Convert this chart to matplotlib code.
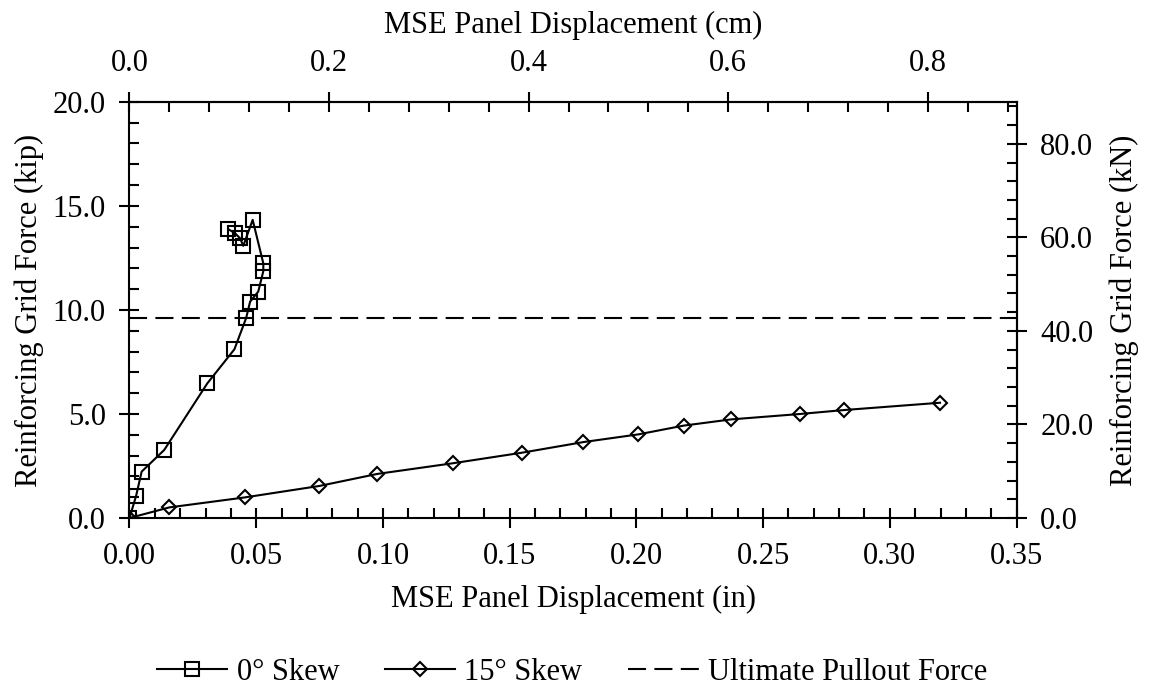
import matplotlib
matplotlib.use("Agg")
import matplotlib.pyplot as plt
from matplotlib.ticker import FixedLocator, MultipleLocator, FormatStrFormatter

plt.rcParams['font.family'] = ['Liberation Serif', 'DejaVu Serif']
plt.rcParams['lines.scale_dashes'] = False

# 0 deg skew (in, kip)
skew0_x = [0.0, 0.0026, 0.0048, 0.0137, 0.0307, 0.0414, 0.0460, 0.0476, 0.0508,
           0.0528, 0.0528, 0.0486, 0.0449, 0.0436, 0.0416, 0.0390]
skew0_y = [0.0, 1.06, 2.23, 3.27, 6.47, 8.11, 9.60, 10.40, 10.88,
           11.86, 12.24, 14.33, 13.08, 13.45, 13.69, 13.88]
# 15 deg skew (in, kip)
skew15_x = [0.0, 0.0157, 0.0455, 0.0749, 0.0978, 0.1275, 0.1549, 0.1791, 0.2008,
            0.2186, 0.2374, 0.2646, 0.2820, 0.3198]
skew15_y = [0.0, 0.51, 0.99, 1.54, 2.12, 2.63, 3.14, 3.65, 4.02,
            4.44, 4.74, 5.00, 5.19, 5.54]
# ultimate pullout force (kip)
pullout_x = [0.0, 0.35]
pullout_y = [9.6, 9.6]

labels = ['0° Skew', '15° Skew', 'Ultimate Pullout Force']

# tick values
x_ticks = [0.00, 0.05, 0.10, 0.15, 0.20, 0.25, 0.30, 0.35]
y_ticks = [0.0, 5.0, 10.0, 15.0, 20.0]
cm_ticks = [0.0, 0.2, 0.4, 0.6, 0.8]
kn_ticks = [0.0, 20.0, 40.0, 60.0, 80.0]

KIP_TO_KN = 4.44822
IN_TO_CM = 2.54

fig = plt.figure(figsize=(11.51, 6.93), dpi=100)
ax = fig.add_axes([0.1125, 0.2525, 0.7707, 0.6005])

lw = 1.5
ax.plot(skew0_x, skew0_y, color='black', lw=lw, marker='s', ms=9.5,
        mfc='none', mec='black', mew=1.5, label=labels[0])
ax.plot(skew15_x, skew15_y, color='black', lw=lw, marker='D', ms=7.2,
        mfc='none', mec='black', mew=1.5, label=labels[1])
ax.plot(pullout_x, pullout_y, color='black', lw=lw, dashes=(13, 6),
        label=labels[2])

ax.set_xlim(0, 0.35)
ax.set_ylim(0, 20)
ax.xaxis.set_major_locator(FixedLocator(x_ticks))
ax.xaxis.set_minor_locator(MultipleLocator(0.01))
ax.yaxis.set_major_locator(FixedLocator(y_ticks))
ax.yaxis.set_minor_locator(MultipleLocator(1))
ax.xaxis.set_major_formatter(FormatStrFormatter('%.2f'))
ax.yaxis.set_major_formatter(FormatStrFormatter('%.1f'))

fs = 22
sw = 1.5
pad = 10
for s in ax.spines.values():
    s.set_linewidth(sw)
ax.tick_params(which='major', direction='inout', length=14, width=sw,
               labelsize=fs, pad=pad)
ax.tick_params(which='minor', direction='in', length=7, width=sw)
ax.tick_params(top=False, right=False, which='both')

ax.set_xlabel('MSE Panel Displacement (in)', fontsize=fs, labelpad=10)
ax.set_ylabel('Reinforcing Grid Force (kip)', fontsize=fs, labelpad=6)

secx = ax.secondary_xaxis('top', functions=(lambda v: v * IN_TO_CM,
                                            lambda v: v / IN_TO_CM))
secx.xaxis.set_major_locator(FixedLocator(cm_ticks))
secx.xaxis.set_minor_locator(MultipleLocator(0.04))
secx.xaxis.set_major_formatter(FormatStrFormatter('%.1f'))
secx.tick_params(which='major', direction='inout', length=14, width=sw,
                 labelsize=fs, pad=pad)
secx.tick_params(which='minor', direction='in', length=7, width=sw)
secx.set_xlabel('MSE Panel Displacement (cm)', fontsize=fs, labelpad=12)
secx.spines['top'].set_linewidth(sw)

secy = ax.secondary_yaxis('right', functions=(lambda v: v * KIP_TO_KN,
                                              lambda v: v / KIP_TO_KN))
secy.yaxis.set_major_locator(FixedLocator(kn_ticks))
secy.yaxis.set_minor_locator(MultipleLocator(4))
secy.yaxis.set_major_formatter(FormatStrFormatter('%.1f'))
secy.tick_params(which='major', direction='inout', length=14, width=sw,
                 labelsize=fs, pad=pad)
secy.tick_params(which='minor', direction='in', length=7, width=sw)
secy.set_ylabel('Reinforcing Grid Force (kN)', fontsize=fs, labelpad=12)
secy.spines['right'].set_linewidth(sw)

leg = fig.legend(loc='center', bbox_to_anchor=(0.497, 1 - 672 / 693), ncol=3,
                 frameon=False, fontsize=fs, handlelength=2.3,
                 columnspacing=1.5, handletextpad=0.3, borderpad=0.0)

fig.savefig('out.png', dpi=100)
